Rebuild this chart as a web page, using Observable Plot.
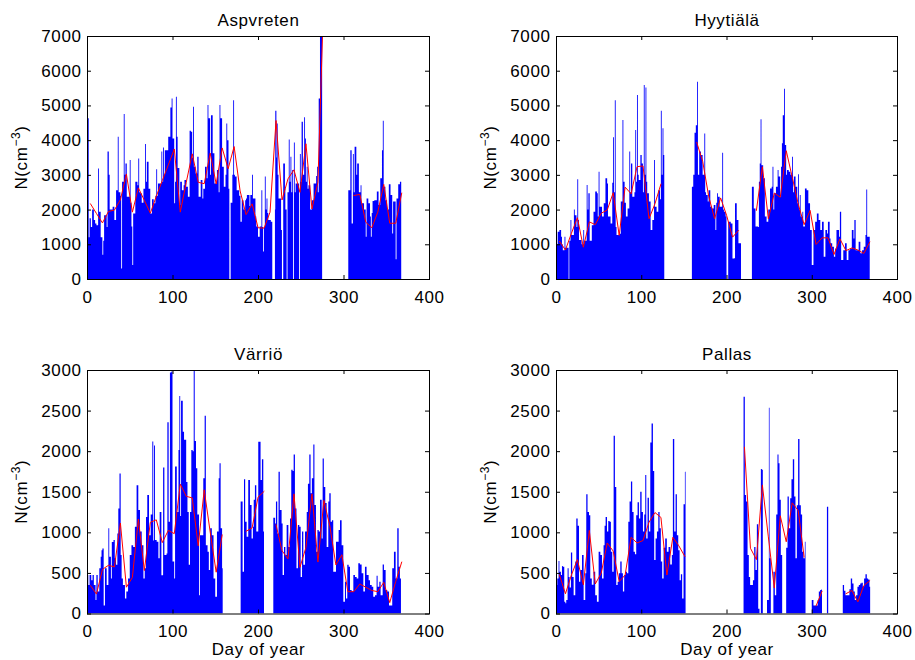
<!DOCTYPE html>
<html><head><meta charset="utf-8">
<script src="https://cdn.jsdelivr.net/npm/d3@7"></script>
<script src="https://cdn.jsdelivr.net/npm/@observablehq/plot@0.6"></script>
<style>
body{margin:0;background:#fff;}
#fig{position:relative;width:915px;height:660px;background:#fff;}
#fig svg{position:absolute;}
</style></head><body><div id="fig"></div>
<script>
// ---- data ----
const stationNames = ["Aspvreten", "Hyytiälä", "Värriö", "Pallas"];
const xTickValues = [0, 100, 200, 300, 400];
const yTicksTop = [0, 1000, 2000, 3000, 4000, 5000, 6000, 7000];
const yTicksBottom = [0, 500, 1000, 1500, 2000, 2500, 3000];
const weekMidDays = d3.range(53).map(i => 3.5 + 7 * i);

// hourly concentration envelope: [day, N]; null closes a data segment
const aspvretenHourly = [[0,1400],[0.5,4630],[2,1200],[3,1750],[4.5,1500],[6,2000],[8,1700],[9.5,1600],[11,1550],[13,3180],[14,1940],[16,1200],[18,700],[19,1100],[20,1840],[23,1500],[24,3670],[25.5,3000],[26.5,2000],[30,2080],[32,1700],[34,2560],[36,4100],[37,2500],[39,2400],[40,300],[41,2800],[43,4750],[44,3000],[45,3330],[46.5,2370],[50,3430],[51,2200],[52,1510],[53,400],[54,1890],[56.5,2800],[59,2700],[60,3470],[61,2500],[62,2470],[64,2200],[66,2600],[68,3890],[69,2800],[70,3380],[72,2600],[74,1890],[76,2300],[78,2180],[80,2400],[81,3160],[82,2400],[83,2750],[87,3670],[88,2800],[89,3790],[90,3000],[91,3710],[95,4100],[97.5,4940],[99,5200],[100,4050],[102,2180],[103,2800],[104,5250],[105,4100],[106,3200],[108,2130],[109,2800],[111,2560],[113,2700],[114,2850],[116,2660],[118,2370],[120,4270],[121.5,4240],[123,3500],[124,4960],[125,3230],[127,3040],[129,3520],[130.5,2370],[133,2850],[135,2320],[136,2600],[138,3230],[140,2900],[141,5010],[142,4630],[144,3000],[145,4720],[147,3620],[149,2750],[152,3140],[154,2500],[155,5010],[156,4630],[158,3230],[160,2660],[162,3000],[163,4480],[164,4000],[165.5,2600],[166.5,0],[168,2200],[170,3000],[171,5150],[172,3000],[173,2950],[175,2560],[178,2400],[179.5,1650],[181,2270],[183,2000],[185,2270],[186,2320],[187,2420],[190,2100],[191,2420],[193,3000],[194,2320],[197,1800],[198,1510],[200,1220],[202,1510],[204,2560],[205,1500],[206,790],[207,1500],[208,2950],[209,2000],[210,2320],[211,1900],[212,1700],[215,1650],[216.7,0],[219.8,2000],[220.2,4850],[221.5,3500],[222,4480],[223,3000],[224,2320],[227,1410],[228,0],[229.5,3330],[231.5,2600],[232,2000],[233.5,0],[234.5,2500],[236,4020],[237,2800],[238,3520],[239,2500],[240,3140],[241,0],[242,3930],[243,2500],[244,2750],[248,0],[249,3600],[250,2800],[251,4530],[252.5,3000],[254,4660],[255,4050],[256,2800],[257,3230],[258,2600],[259,2700],[261,2000],[263,2270],[265,2750],[268,2970],[269,3230],[270,2500],[271,5200],[272.5,7600],[275,null],
[305.6,2560],[308,3710],[309.5,1600],[311,3600],[312,2500],[313,3810],[315,3000],[316,3330],[318,2500],[320,2700],[321,2180],[324,2000],[326,1220],[327,2320],[329,2180],[331,1800],[332,1220],[333,1900],[334,2250],[336,2270],[339,2520],[341,2130],[343,2900],[345,3710],[346,4560],[347,2660],[349,2270],[351,2000],[353,2730],[355,2420],[357,1310],[358,2230],[361,570],[362,2320],[364,2730],[366,2800],[367.5,null]];

const hyytialaHourly = [[0,1000],[2,1360],[4,1410],[6,1220],[7,1000],[8,830],[10,1220],[11,900],[14.8,0],[15.6,1100],[17,1700],[18,1270],[21,2000],[22,1840],[24,1500],[25,2870],[26,1700],[27,1120],[30,1000],[32,1410],[33,1100],[36,2710],[37,2000],[38,2470],[39.5,1100],[42,1550],[44,1940],[46,2520],[48,2470],[49,1800],[50,3090],[51,2080],[54,1800],[56,2180],[58,2900],[60,2750],[61,1800],[64,1600],[66,2770],[67,4080],[68,2500],[69,5150],[70,1500],[71,1270],[74,1300],[76,2230],[78,4580],[79,2800],[80.5,2200],[82,1800],[84,2030],[86,3670],[87,2500],[88,3330],[89.5,2370],[92,2500],[93,4290],[94,2800],[95,5300],[96,3000],[97,2850],[99,3570],[100.5,3330],[102,2500],[103,5590],[104,3000],[105,5520],[106,2800],[107,2470],[109,2230],[111,1410],[113,1700],[115,3430],[116,2080],[118,1940],[120,2560],[122,2300],[123,4850],[124,3000],[125,4340],[126,3570],[127,null],
[159.4,2660],[161,3000],[162.5,4210],[164,4430],[165.5,5680],[166.5,3000],[168,3670],[170,3570],[172,3000],[174,4190],[175,2500],[176,2420],[178,2230],[179,2560],[181,2080],[183,2030],[185,2130],[187,1410],[188,2200],[189,2470],[190,2370],[192,2080],[195,3640],[196,2000],[197,1940],[199,1800],[200,0],[202,1650],[205,1600],[207,590],[209,600],[210,2180],[212,1700],[214,1030],[216,1030],[217,null],
[229.8,2660],[232,2030],[234,1510],[237,1500],[238,2800],[239,3330],[240,4600],[241,3280],[243,2900],[245,1800],[247,1650],[249,2000],[251,2610],[253,2660],[254,3230],[255,2000],[256,2470],[258,2660],[260,3140],[261,2950],[263,2370],[264,3230],[265,3910],[266,4720],[267.5,5480],[268.5,3860],[270,3000],[271,3140],[273,3090],[275,3000],[277,3520],[278,2500],[279,2950],[281,2660],[283,2180],[284,3020],[285,2000],[286,2420],[287,1800],[289,1940],[290,1510],[292,2610],[294,2560],[296,2180],[298,1410],[300,400],[302,1410],[304,1650],[306,1890],[308,1700],[310,1410],[312,1650],[314,640],[316,1410],[318,1310],[319,1650],[321,1170],[322,1030],[324,930],[326,640],[327.5,880],[329,1410],[332,1220],[333,1940],[334.5,550],[337,830],[339,1030],[341,550],[343,830],[345,880],[347,1410],[349,1170],[350,1700],[351.5,830],[353,830],[355,1070],[357,740],[359,830],[361,930],[363,1270],[364,2580],[365,1220],[368,null]];

const varrioHourly = [[0,474],[1.5,350],[3,474],[5,410],[6.5,474],[8,350],[10,165],[11,474],[12.5,270],[14.4,556],[16,700],[17,780],[18,800],[19.5,100],[21,556],[23,350],[25,1050],[26,700],[28,430],[29,880],[31,905],[32.5,680],[34,600],[35.5,985],[36.6,1295],[38,1726],[39.4,720],[40.5,430],[42,350],[44.4,186],[46,270],[48,430],[50,720],[52,840],[54,820],[56,1070],[58,1580],[60,1275],[62,1010],[64,840],[66,430],[67.5,556],[69,1190],[70.5,1460],[72.5,965],[74.5,1220],[76.4,2120],[77.5,900],[78.4,2070],[79.5,905],[81.5,885],[83.5,680],[85,1250],[87,470],[89,1800],[90.5,720],[93,740],[94,2355],[95.5,1130],[97,2970],[98.6,2980],[100,640],[102,430],[103,1810],[105,1250],[107,2014],[108,2680],[109,1200],[110,2620],[112,2240],[113.5,2140],[116,1620],[117.5,1250],[119,600],[120.5,1250],[122,2014],[123.6,2000],[124.8,2990],[126,2125],[127.5,1790],[129,1220],[131,225],[132,965],[134,965],[136,1665],[137.6,2435],[139,840],[141,760],[142.5,535],[144,1050],[146,965],[148,430],[150,205],[152,1010],[154,1665],[155,1850],[156.3,1050],[158,556],[158.7,null],
[179.7,1380],[182,515],[183.6,1655],[185,1130],[186.7,945],[188.6,1645],[190.6,1336],[192.5,925],[194,1070],[195,1400],[196.4,1580],[198,1010],[200.3,2116],[202,2116],[203,1645],[204.6,1900],[206.2,1010],[207,null],
[217.9,1180],[220,1110],[221,1380],[222.5,985],[224,1745],[225.5,1275],[227.6,1110],[228.8,475],[230.4,820],[232,720],[233.5,1090],[235.5,820],[237.4,1170],[238.9,1770],[240.5,1755],[241.7,1960],[243.2,1295],[245,556],[246.7,1090],[248.3,1070],[249.9,450],[251.5,1010],[253,600],[255,1010],[257,1250],[258.4,1600],[260,1960],[261.5,1480],[263,1665],[264.7,2083],[266,1336],[267.8,760],[269.5,1030],[271,1010],[272.5,1400],[274.5,925],[275.6,1910],[277,1560],[278.7,1360],[280.3,820],[282.2,1380],[283.4,1480],[285,1130],[286.5,1150],[288,515],[290,515],[291.2,885],[293,885],[294.3,1030],[295.9,1150],[297.8,840],[299.8,145],[301.7,390],[302.9,186],[304.4,600],[306,576],[307.6,290],[309.5,270],[311.5,475],[313.4,450],[315.4,430],[317.3,620],[319.2,605],[321.2,495],[323.2,270],[325.1,576],[327,475],[328.2,475],[329.4,410],[331,350],[333,330],[334.8,205],[336.8,225],[338.7,465],[339.9,330],[341.9,390],[343.4,225],[345.8,605],[347.3,535],[349.3,290],[351.2,270],[353.2,100],[355,100],[357,556],[359,760],[361,430],[362.9,1050],[364.5,576],[366,430],[367.2,null]];

const pallasHourly = [[0,350],[1.5,430],[3,646],[4,515],[5.8,474],[7,585],[8,576],[9.7,145],[11,125],[12,165],[13.6,556],[14.8,450],[16,320],[17.5,753],[19,450],[20.7,225],[22.6,640],[23.8,1170],[25.4,1080],[27,390],[28.5,535],[30.5,720],[32.4,165],[34.3,495],[35.5,1468],[37,1250],[38.7,1210],[40.2,430],[42,355],[44,515],[46,225],[48,145],[50,760],[52,720],[54,430],[55.8,840],[57,1080],[58.2,1190],[59.8,1010],[61.3,1140],[62.9,1130],[64.4,760],[66,515],[67.6,2190],[69.1,1560],[70.7,350],[72.3,390],[73.8,495],[75.4,640],[77,495],[78.5,270],[80,475],[81.6,515],[83.2,495],[84.8,1130],[86.3,1380],[87.9,1625],[89.4,1250],[91,760],[92.6,730],[94.1,1210],[95.7,1370],[97.3,1170],[98.8,1500],[100.4,1250],[102,1010],[103.5,1220],[104.7,1705],[105.9,925],[107.4,1425],[109,1010],[110.6,2108],[112.1,2340],[113.7,1755],[115.2,660],[116.8,925],[118.4,1010],[120,1250],[121.5,1050],[123,640],[124.6,430],[126.2,810],[128.1,925],[130,760],[132,820],[134,605],[135.9,720],[137.1,2150],[138.7,1010],[140.3,1468],[141.8,965],[143.4,780],[145,410],[146.5,485],[148,186],[149.6,1345],[151.2,1745],[152,null],
[220,2670],[221.5,1460],[223,1380],[224.7,720],[226.2,450],[227.7,350],[229.7,350],[231,410],[232.5,820],[234,535],[235.6,1100],[237.2,60],[238.7,0],[240.3,1780],[241.5,1770],[242.6,0],[247.5,165],[249.7,2535],[250.5,680],[252,0],[255,515],[256.7,225],[258.3,1220],[259.8,1960],[261,1850],[262.2,1400],[263.7,720],[265.3,0],[270,810],[271.6,1440],[273.1,1050],[274.7,1420],[276.2,1655],[277.8,1900],[279.4,1440],[280.9,680],[282.5,1335],[284,2150],[285.6,1335],[287.2,1220],[288.7,760],[290.3,680],[291.9,885],[292.7,null],
[300,165],[302,100],[305,100],[307,165],[308.3,270],[309.8,290],[311.4,300],[312,null],
[317.8,1315],[319.3,null],
[336.4,350],[337.9,280],[339.5,225],[341,225],[342.7,225],[344.2,300],[345.8,430],[347.4,370],[349,270],[350.5,165],[352,225],[353.6,330],[355.2,350],[356.8,370],[358.3,380],[359.9,330],[361.4,430],[363,485],[364.6,430],[366.1,420],[367.7,330],[368.5,null]];

// weekly means (one per week, centred on weekMidDays)
const aspvretenWeekly = [2180,1900,1630,1960,2000,2300,3040,1940,2640,2280,1910,2400,2850,3300,3760,1940,2800,3620,2800,2760,3640,2750,3790,3190,3830,2550,1870,2180,1490,1480,1940,4580,2290,2900,3160,2510,3910,2030,2800,8300,null,null,null,null,2420,2450,1650,1490,1940,2740,1620,1620,2490];
const hyytialaWeekly = [1100,850,1330,1780,930,1660,1580,1910,2000,2500,1270,2660,2470,3250,3270,1750,2180,2750,null,null,null,null,null,3950,3400,2400,1750,2350,1850,1220,1410,null,null,1990,3250,1750,2490,2370,3710,2950,2180,1580,1990,1010,1200,1200,720,1170,830,910,850,750,1080];
const varrioWeekly = [350,245,550,600,580,1120,330,450,1170,535,1130,1160,880,1030,990,1600,1450,1430,840,1530,1010,515,975,null,null,null,1020,1060,1440,1510,null,1100,780,680,1480,575,820,1480,640,1400,1080,605,730,275,275,370,330,290,275,390,140,400,640];
const pallasWeekly = [480,250,480,670,360,1030,370,505,875,775,400,480,945,875,905,1130,1250,1190,480,945,840,710,null,null,null,null,null,null,null,null,null,2055,810,670,1590,950,320,1210,890,1370,1275,700,null,100,280,null,null,null,250,290,150,350,410];

// ---- drawing ----
const FONT = '"Liberation Sans", Arial, Helvetica, sans-serif';
const fig = document.getElementById("fig");
const plain = d => String(d);

function toArea(samples) {
  const out = [];
  samples.forEach(([d, v], i) => {
    if (v == null) {
      out.push({day: d, n: samples[i - 1][1]});
      out.push({day: d, n: NaN});
    } else out.push({day: d, n: v});
  });
  return out;
}

function panel(cfg) {
  const {name, hourly, weekly, ymax, yticks, left, top, width, height, mL, mR, mT, mB, xlabel} = cfg;
  const ph = height - mT - mB, pw = width - mL - mR;
  const weeklyPts = weekly.map((v, i) => ({day: weekMidDays[i], n: v}));
  const marks = [
    Plot.areaY(toArea(hourly), {x: "day", y: "n", curve: "step-after", fill: "#0000ff", clip: true}),
    Plot.line(weeklyPts, {x: "day", y: "n", stroke: "#ff0000", strokeWidth: 1, clip: true}),
    Plot.frame({stroke: "#000", strokeWidth: 1}),
    Plot.tickX(xTickValues, {x: d => d, insetTop: ph - 4, stroke: "#000"}),
    Plot.tickX(xTickValues, {x: d => d, insetBottom: ph - 4, stroke: "#000"}),
    Plot.tickY(yticks, {y: d => d, insetRight: pw - 4, stroke: "#000"}),
    Plot.tickY(yticks, {y: d => d, insetLeft: pw - 4, stroke: "#000"}),
    Plot.axisX({ticks: xTickValues, tickFormat: plain, tickSize: 0, tickPadding: 11, label: null}),
    Plot.axisY({ticks: yticks, tickFormat: plain, tickSize: 0, tickPadding: 6, label: null}),
    Plot.text([name], {frameAnchor: "top", dy: -16, lineAnchor: "middle", fontSize: 17})
  ];
  if (xlabel) marks.push(Plot.text(["Day of year"], {frameAnchor: "bottom", dy: 29, lineAnchor: "top", fontSize: 17}));
  const svg = Plot.plot({
    width, height, marginLeft: mL, marginRight: mR, marginTop: mT, marginBottom: mB,
    style: {fontFamily: FONT, fontSize: "17px", color: "#000", background: "transparent", letterSpacing: "0.6px"},
    x: {domain: [0, 400], ticks: xTickValues},
    y: {domain: [0, ymax], ticks: yticks},
    marks
  });
  svg.style.left = left + "px";
  svg.style.top = top + "px";
  // y-axis label with superscript
  const cy = mT + ph / 2;
  const t = d3.select(svg).append("text")
    .attr("transform", `translate(${mL - 60},${cy}) rotate(-90)`)
    .attr("text-anchor", "middle")
    .attr("font-size", 17)
    .attr("fill", "#000");
  t.append("tspan").text("N(cm");
  t.append("tspan").attr("font-size", 12).attr("dy", -7).text("\u22123");
  t.append("tspan").attr("dy", 7).text(")");
  fig.appendChild(svg);
}

const W = 457, H = 330;
panel({name: stationNames[0], hourly: aspvretenHourly, weekly: aspvretenWeekly, ymax: 7000, yticks: yTicksTop,
  left: 0, top: 0, width: W, height: H, mL: 87, mR: 28, mT: 36, mB: 51});
panel({name: stationNames[1], hourly: hyytialaHourly, weekly: hyytialaWeekly, ymax: 7000, yticks: yTicksTop,
  left: 457, top: 0, width: 458, height: H, mL: 99, mR: 18, mT: 36, mB: 51});
panel({name: stationNames[2], hourly: varrioHourly, weekly: varrioWeekly, ymax: 3000, yticks: yTicksBottom,
  left: 0, top: 330, width: W, height: H, mL: 87, mR: 28, mT: 40, mB: 46.5, xlabel: true});
panel({name: stationNames[3], hourly: pallasHourly, weekly: pallasWeekly, ymax: 3000, yticks: yTicksBottom,
  left: 457, top: 330, width: 458, height: H, mL: 99, mR: 18, mT: 40, mB: 46.5, xlabel: true});
</script>
</body></html>
